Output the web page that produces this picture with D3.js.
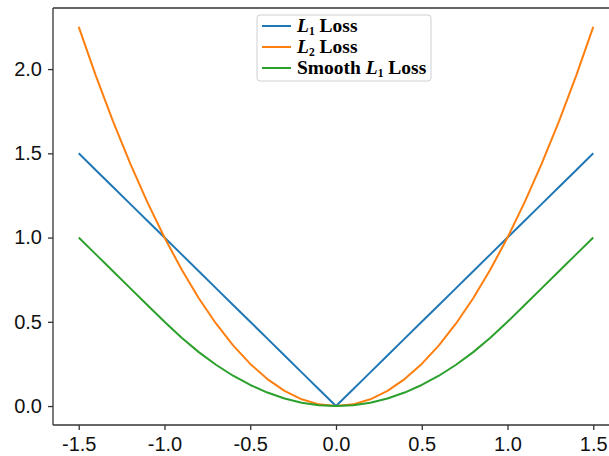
<!DOCTYPE html>
<html>
<head>
<meta charset="utf-8">
<script src="https://cdn.jsdelivr.net/npm/d3@7"></script>
<style>
body { margin: 0; background: white; }
</style>
</head>
<body>
<script>
var W = 609, H = 456;
var margin = {top: 8, right: -10, bottom: 31, left: 53};

// sample points and losses
var xs = [-1.5,-1.4,-1.3,-1.2,-1.1,-1.0,-0.9,-0.8,-0.7,-0.6,-0.5,-0.4,-0.3,-0.2,-0.1,0,
          0.1,0.2,0.3,0.4,0.5,0.6,0.7,0.8,0.9,1.0,1.1,1.2,1.3,1.4,1.5];
var l1 = [1.5,1.4,1.3,1.2,1.1,1.0,0.9,0.8,0.7,0.6,0.5,0.4,0.3,0.2,0.1,0,
          0.1,0.2,0.3,0.4,0.5,0.6,0.7,0.8,0.9,1.0,1.1,1.2,1.3,1.4,1.5];
var l2 = [2.25,1.96,1.69,1.44,1.21,1.0,0.81,0.64,0.49,0.36,0.25,0.16,0.09,0.04,0.01,0,
          0.01,0.04,0.09,0.16,0.25,0.36,0.49,0.64,0.81,1.0,1.21,1.44,1.69,1.96,2.25];
var smoothL1 = [1.0,0.9,0.8,0.7,0.6,0.5,0.405,0.32,0.245,0.18,0.125,0.08,0.045,0.02,0.005,0,
          0.005,0.02,0.045,0.08,0.125,0.18,0.245,0.32,0.405,0.5,0.6,0.7,0.8,0.9,1.0];
var xTicks = [-1.5,-1.0,-0.5,0.0,0.5,1.0,1.5];
var yTicks = [0.0,0.5,1.0,1.5,2.0];
var series = [
  {name: "1", pre: "", values: l1, color: "#1f77b4"},
  {name: "2", pre: "", values: l2, color: "#ff7f0e"},
  {name: "1", pre: "Smooth ", values: smoothL1, color: "#2ca02c"}
];

var svg = d3.select("body").append("svg")
    .attr("width", W)
    .attr("height", H)

var x = d3.scaleLinear().domain([-1.65, 1.65]).range([margin.left, W - margin.right])
var y = d3.scaleLinear().domain([-0.1125, 2.3625]).range([H - margin.bottom, margin.top])

var line = d3.line()
    .x((d, i) => x(xs[i]))
    .y(d => y(d))

svg.selectAll("path.loss")
    .data(series)
    .enter()
    .append("path")
    .attr("class", "loss")
    .attr("d", d => line(d.values))
    .attr("fill", "none")
    .attr("stroke", d => d.color)
    .attr("stroke-width", 2)
    .attr("stroke-linejoin", "round")

var fmt = d => d3.format(".1f")(d).replace("−", "-")
var xAxis = d3.axisBottom(x).tickValues(xTicks).tickFormat(fmt).tickSize(5).tickPadding(7)
var yAxis = d3.axisLeft(y).tickValues(yTicks).tickFormat(fmt).tickSize(5).tickPadding(6)

svg.append("g")
    .attr("class", "x-axis")
    .attr("transform", "translate(0," + (H - margin.bottom) + ")")
    .call(xAxis)
svg.append("g")
    .attr("class", "y-axis")
    .attr("transform", "translate(" + margin.left + ",0)")
    .call(yAxis)
svg.selectAll(".domain").remove()

// spines
var spine = svg.append("g").attr("stroke", "#333").attr("stroke-width", 1.3)
spine.append("line")
    .attr("x1", margin.left).attr("x2", W)
    .attr("y1", margin.top).attr("y2", margin.top)
spine.append("line")
    .attr("x1", margin.left).attr("x2", W)
    .attr("y1", H - margin.bottom).attr("y2", H - margin.bottom)
spine.append("line")
    .attr("x1", margin.left).attr("x2", margin.left)
    .attr("y1", margin.top).attr("y2", H - margin.bottom)

svg.selectAll(".tick line").attr("stroke", "#333").attr("stroke-width", 1.3)
svg.selectAll(".tick text")
    .style("font-family", "Liberation Sans, Arial, sans-serif")
    .style("font-size", "20px")
    .attr("fill", "#111")

// legend
var lg = svg.append("g").attr("transform", "translate(257,15)")
lg.append("rect")
    .attr("x", 0).attr("y", 0)
    .attr("width", 174).attr("height", 66)
    .attr("rx", 3)
    .attr("fill", "white").attr("fill-opacity", 0.8)
    .attr("stroke", "#d0d0d0")

var item = lg.selectAll("g.item")
    .data(series)
    .enter()
    .append("g")
    .attr("class", "item")
    .attr("transform", (d, i) => "translate(0," + (11 + i * 21) + ")")

item.append("line")
    .attr("x1", 5).attr("x2", 34)
    .attr("stroke", d => d.color)
    .attr("stroke-width", 2)

var txt = item.append("text")
    .attr("x", 40)
    .attr("y", 6)
    .style("font-family", "Liberation Serif, Times New Roman, serif")
    .style("font-weight", "bold")
    .style("font-size", "19.5px")
    .attr("fill", "#000")
txt.append("tspan").text(d => d.pre)
txt.append("tspan").style("font-style", "italic").text("L")
txt.append("tspan").attr("dy", 3).style("font-size", "11.5px").text(d => d.name)
txt.append("tspan").attr("dy", -3).text(" Loss")
</script>
</body>
</html>
